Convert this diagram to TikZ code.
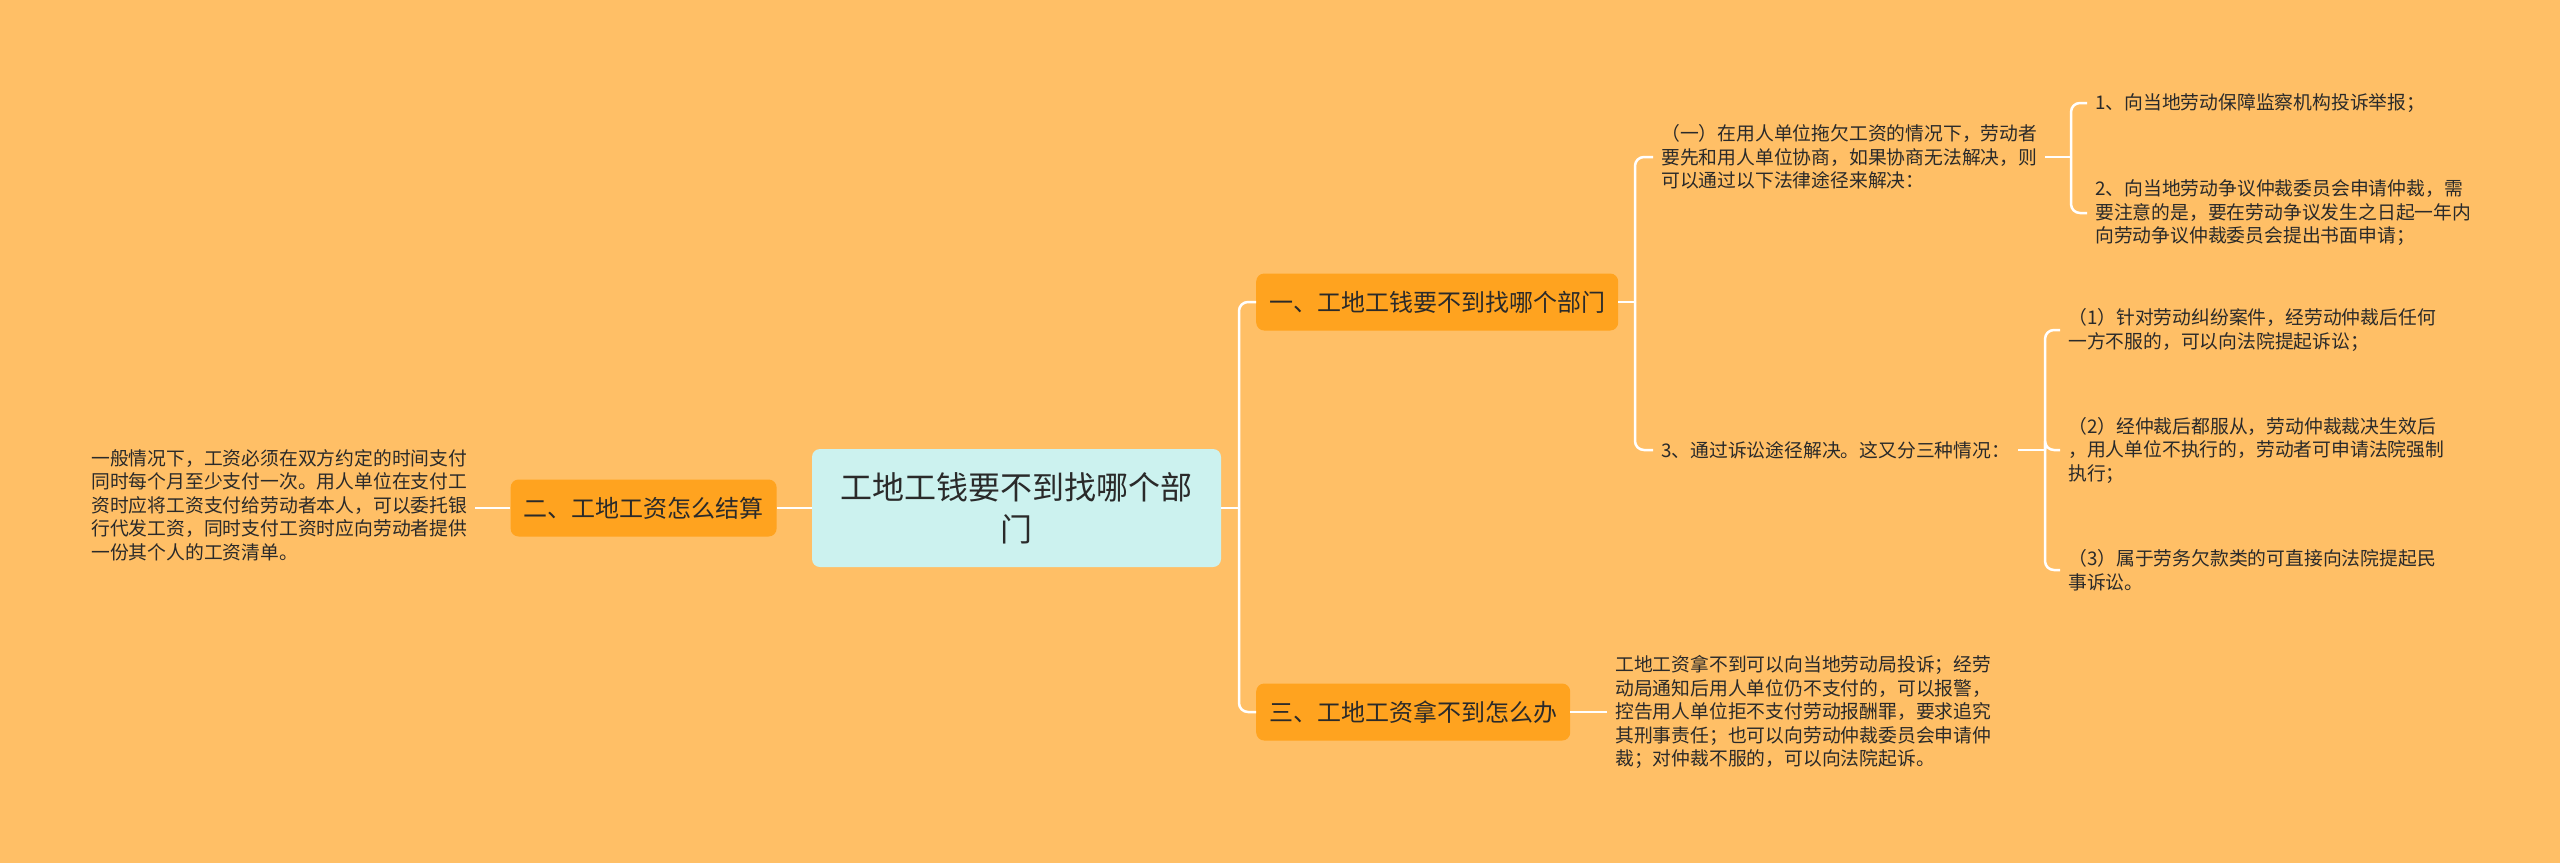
\documentclass[tikz,border=0pt]{standalone}
\usepackage{fontspec}
\setmainfont{Noto Sans CJK SC}
\usetikzlibrary{positioning,calc}
\definecolor{bgorange}{HTML}{FFBF66}
\definecolor{nodeorange}{HTML}{FFA31F}
\definecolor{rootcyan}{HTML}{CCF2EF}
\definecolor{inkdark}{HTML}{2A2A2A}

\tikzset{
  rootbox/.style={fill=rootcyan, rounded corners=8pt, align=center,
    minimum width=409pt, minimum height=118pt, text=inkdark,
    font=\fontsize{32}{42}\selectfont},
  branch/.style={fill=nodeorange, rounded corners=8pt, inner xsep=13pt,
    minimum height=57pt, text=inkdark, font=\fontsize{24}{30}\selectfont},
  leaf/.style={align=left, inner xsep=8pt, inner ysep=0pt, text=inkdark,
    font=\fontsize{18.8}{23.5}\selectfont},
  link/.style={draw=white, line width=2.5pt, rounded corners=9pt},
}

\begin{document}
\begin{tikzpicture}[x=1pt, y=-1pt]
  \fill[bgorange] (0,0) rectangle (2560,863);
  \useasboundingbox (0,0) rectangle (2560,863);

  % main topic and the three branches
  \node[rootbox] (root) at (1016.5,508) {工地工钱要不到找哪个部\\门};
  \node[branch, left=35pt of root] (pay) {二、工地工资怎么结算};
  \node[branch, anchor=west] (dept) at (1256,302) {一、工地工钱要不到找哪个部门};
  \node[branch, anchor=west] (fail) at (1256,712) {三、工地工资拿不到怎么办};

  % left branch
  \node[leaf, anchor=west] (paytxt) at (83,505) {一般情况下，工资必须在双方约定的时间支付\\同时每个月至少支付一次。用人单位在支付工\\资时应将工资支付给劳动者本人，可以委托银\\行代发工资，同时支付工资时应向劳动者提供\\一份其个人的工资清单。};

  % upper right branch
  \node[leaf, anchor=west] (nego) at (1653,157) {（一）在用人单位拖欠工资的情况下，劳动者\\要先和用人单位协商，如果协商无法解决，则\\可以通过以下法律途径来解决：};
  \node[leaf, anchor=west] (lawsuit) at (1653,450) {3、通过诉讼途径解决。这又分三种情况：};
  \node[leaf, anchor=west] (report) at (2087,103) {1、向当地劳动保障监察机构投诉举报；};
  \node[leaf, anchor=west] (arbit) at (2087,213) {2、向当地劳动争议仲裁委员会申请仲裁，需\\要注意的是，要在劳动争议发生之日起一年内\\向劳动争议仲裁委员会提出书面申请；};
  \node[leaf, anchor=west] (case1) at (2060,330) {（1）针对劳动纠纷案件，经劳动仲裁后任何\\一方不服的，可以向法院提起诉讼；};
  \node[leaf, anchor=west] (case2) at (2060,450) {（2）经仲裁后都服从，劳动仲裁裁决生效后\\，用人单位不执行的，劳动者可申请法院强制\\执行；};
  \node[leaf, anchor=west] (case3) at (2060,570) {（3）属于劳务欠款类的可直接向法院提起民\\事诉讼。};

  % lower right branch
  \node[leaf, anchor=west] (failtxt) at (1607,712) {工地工资拿不到可以向当地劳动局投诉；经劳\\动局通知后用人单位仍不支付的，可以报警，\\控告用人单位拒不支付劳动报酬罪，要求追究\\其刑事责任；也可以向劳动仲裁委员会申请仲\\裁；对仲裁不服的，可以向法院起诉。};

  % fork points
  \coordinate (rootfork) at (1239,508);
  \coordinate (deptfork) at (1635,302);
  \coordinate (negofork) at (2071,157);
  \coordinate (lawfork) at (2045,450);

  % connectors
  \draw[link] (root.west) -- (pay.east);
  \draw[link] (pay.west) -- (paytxt.east |- pay.west);
  \draw[link] (root.east) -- (rootfork);
  \draw[link] (rootfork) |- (dept.west);
  \draw[link] (rootfork) |- (fail.west);
  \draw[link] (fail.east) -- (failtxt.west);
  \draw[link] (dept.east) -- (deptfork);
  \draw[link] (deptfork) |- (nego.west);
  \draw[link] (deptfork) |- (lawsuit.west);
  \draw[link] (nego.east) -- (negofork);
  \draw[link] (negofork) |- (report.west);
  \draw[link] (negofork) |- (arbit.west);
  \draw[link] (lawsuit.east) -- (lawfork);
  \draw[link] (lawfork) |- (case1.west);
  \draw[link] (lawfork) |- (case2.west);
  \draw[link] (lawfork) |- (case3.west);
\end{tikzpicture}
\end{document}
